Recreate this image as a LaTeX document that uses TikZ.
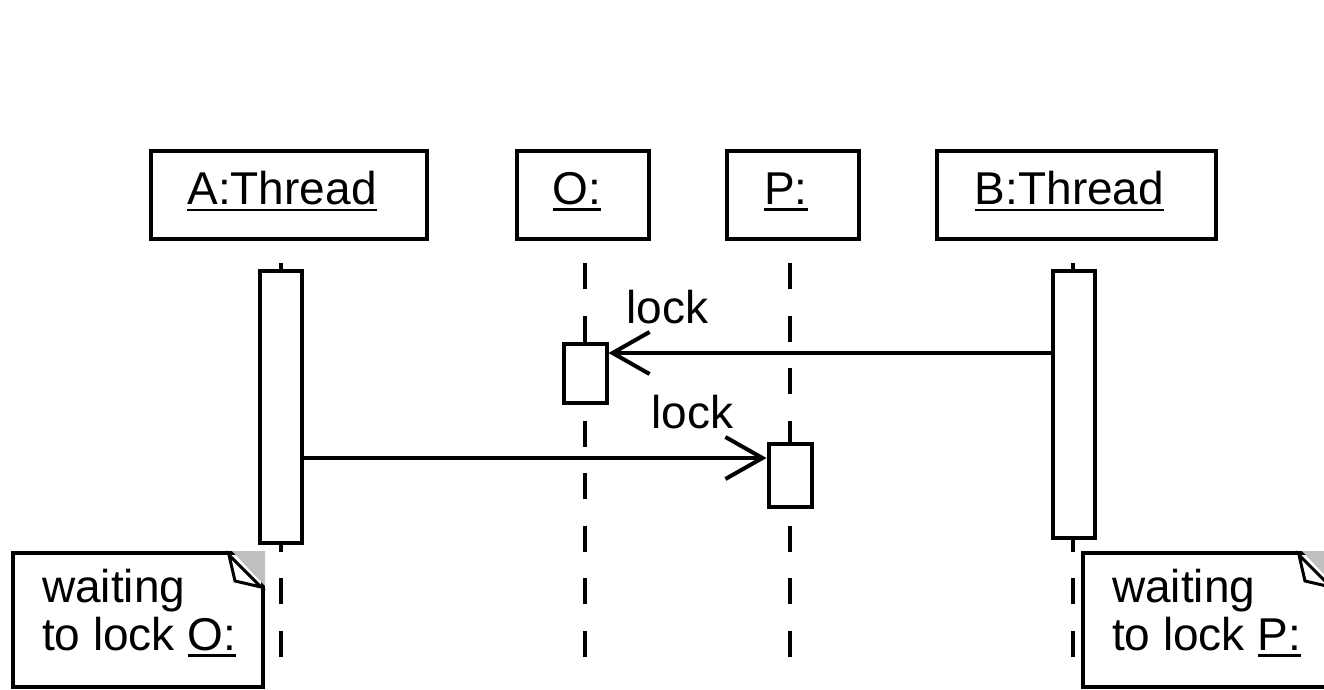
\documentclass[tikz,border=0pt]{standalone}
\usepackage{fontspec}
\setmainfont{Liberation Sans}
\usetikzlibrary{arrows.meta}
\newcommand{\ulabel}[1]{\setbox0\hbox{#1}\rlap{\rule[-6.5pt]{\wd0}{2.5pt}}\box0}

\begin{document}
\begin{tikzpicture}[x=1pt, y=-1pt, line width=4pt,
    head/.style={draw, inner sep=0pt, minimum height=88pt, text depth=13.5pt, font=\fontsize{46}{48}\selectfont},
    activation/.style={draw, fill=white, inner sep=0pt, minimum width=42pt},
    lifeline/.style={dash pattern=on 26pt off 26.5pt},
    msg/.style={-{Straight Barb[length=37pt,width=42pt]}},
    msgtext/.style={inner sep=0pt, font=\fontsize{46}{48}\selectfont},
    note/.style={draw, fill=white, inner sep=0pt, minimum width=250pt, minimum height=134pt},
    notetext/.style={inner sep=0pt, align=left, font=\fontsize{46}{48}\selectfont}]
    \useasboundingbox (0,0) rectangle (1324,689);

    % Objects
    \node[head, minimum width=276pt] (A) at (289,195) {\ulabel{A:Thread}\kern14pt};
    \node[head, minimum width=132pt] (O) at (583,195) {\ulabel{O:}\kern12pt};
    \node[head, minimum width=132pt] (P) at (793,195) {\ulabel{P:}\kern14pt};
    \node[head, minimum width=279pt] (B) at (1076.5,195) {\ulabel{B:Thread}\kern14pt};

    % Lifelines
    \draw[lifeline] (281,263) -- (281,657);
    \draw[lifeline] (585,263) -- (585,657);
    \draw[lifeline] (790,263) -- (790,657);
    \draw[lifeline] (1073,263) -- (1073,657);

    % Activations
    \node[activation, minimum height=272pt] (actA) at (281,407) {};
    \node[activation, minimum width=43pt, minimum height=59pt] (actO) at (585,373.5) {};
    \node[activation, minimum width=43pt, minimum height=63pt] (actP) at (790,475.5) {};
    \node[activation, minimum height=267pt] (actB) at (1074,404.5) {};

    % Messages
    \coordinate (m1) at ([yshift=-11pt]actO.north east);
    \coordinate (m2) at ([yshift=-16pt]actP.north west);
    \draw[msg] (actB.west |- m1) -- (m1);
    \draw[msg] (actA.east |- m2) -- (m2);
    \node[msgtext, anchor=base west] (lockO) at ([shift={(16pt,30pt)}]m1) {lock};
    \node[msgtext, anchor=base east] (lockP) at ([shift={(-31pt,30pt)}]m2) {lock};

    % Notes
    \node[note] (noteA) at (138,620) {};
    \fill[gray!50] ([xshift=-33pt]noteA.north east) -- (noteA.north east) -- ([yshift=-35pt]noteA.north east) -- cycle;
    \draw[line width=3pt, fill=white] ([shift={(-36pt,-4pt)}]noteA.north east) -- ([shift={(-30pt,-30pt)}]noteA.north east) -- ([shift={(-4pt,-36pt)}]noteA.north east) -- cycle;
    \node[notetext, anchor=north west] (noteAtext) at ([shift={(29pt,-16pt)}]noteA.north west) {waiting\\to lock \ulabel{O:}};

    \node[note] (noteB) at (1208,620) {};
    \fill[gray!50] ([xshift=-33pt]noteB.north east) -- (noteB.north east) -- ([yshift=-35pt]noteB.north east) -- cycle;
    \draw[line width=3pt, fill=white] ([shift={(-36pt,-4pt)}]noteB.north east) -- ([shift={(-30pt,-30pt)}]noteB.north east) -- ([shift={(-4pt,-36pt)}]noteB.north east) -- cycle;
    \node[notetext, anchor=north west] (noteBtext) at ([shift={(29pt,-16pt)}]noteB.north west) {waiting\\to lock \ulabel{P:}};
\end{tikzpicture}
\end{document}
